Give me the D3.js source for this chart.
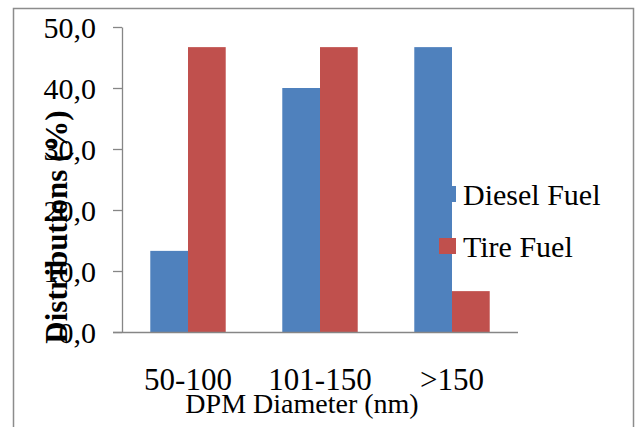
<!DOCTYPE html>
<html>
<head>
<meta charset="utf-8">
<script src="https://cdn.jsdelivr.net/npm/d3@7"></script>
<style>
  html, body { margin: 0; padding: 0; background: #fff; }
  svg { display: block; }
  svg text { font-family: "Liberation Serif", "Times New Roman", serif; }
  .axis--left path, .axis--left line, .axis--bottom path { stroke: #868686; stroke-width: 1.3; }
  .axis--left text { font-size: 30px; fill: #000; }
  .axis--bottom text { font-size: 31px; fill: #000; }
</style>
</head>
<body>
<svg id="bar-chart" width="641" height="427"></svg>
<script>
// chart values
var categories = ['50-100', '101-150', '>150'];
var seriesNames = ['Diesel Fuel', 'Tire Fuel'];
var dieselValues = [13.3, 40.0, 46.7];
var tireValues = [46.7, 46.7, 6.7];
var yTicks = [0, 10, 20, 30, 40, 50];

var colors = { 'Diesel Fuel': '#4F81BD', 'Tire Fuel': '#C0504D' };

var svg = d3.select('#bar-chart');

// chart frame
svg.append('rect')
	.attr('x', 13.5)
	.attr('y', 8.5)
	.attr('width', 620)
	.attr('height', 440)
	.attr('fill', 'none')
	.attr('stroke', '#8c8c8c')
	.attr('stroke-width', 1.5);

var plot = { left: 122, right: 518, top: 27, bottom: 332 };

var x0 = d3.scaleBand()
	.domain(categories)
	.range([plot.left, plot.right])
	.padding(0);

var x1 = d3.scaleBand()
	.domain(seriesNames)
	.range([0, x0.bandwidth()])
	.paddingInner(0)
	.paddingOuter(0.75);

var y = d3.scaleLinear()
	.domain([0, 50])
	.range([plot.bottom, plot.top]);

var rows = categories.map(function(c, i) {
	return { category: c, values: [
		{ name: 'Diesel Fuel', value: dieselValues[i] },
		{ name: 'Tire Fuel', value: tireValues[i] }
	] };
});

var commaFormat = d3.formatLocale({ decimal: ',', thousands: '.', grouping: [3], currency: ['', ''] }).format('.1f');

// bars
svg.append('g')
	.selectAll('g')
	.data(rows)
	.enter()
	.append('g')
	.attr('transform', function(d) { return 'translate(' + x0(d.category) + ',0)'; })
	.selectAll('rect')
	.data(function(d) { return d.values; })
	.enter()
	.append('rect')
	.attr('x', function(d) { return x1(d.name); })
	.attr('y', function(d) { return y(d.value); })
	.attr('width', x1.bandwidth())
	.attr('height', function(d) { return y(0) - y(d.value); })
	.attr('fill', function(d) { return colors[d.name]; });

// y axis
svg.append('g')
	.attr('class', 'axis--left')
	.attr('transform', 'translate(' + plot.left + ',0)')
	.call(d3.axisLeft(y).tickValues(yTicks).tickFormat(commaFormat).tickSize(9).tickSizeOuter(0).tickPadding(17))
	.call(function(g) { g.selectAll('text').attr('dy', '0.34em'); });

// x axis
svg.append('g')
	.attr('class', 'axis--bottom')
	.attr('transform', 'translate(0,' + plot.bottom + ')')
	.call(d3.axisBottom(x0).tickSize(0).tickSizeOuter(0).tickPadding(0))
	.call(function(g) {
		g.select('.domain').attr('d', 'M' + (plot.left - 9) + ',0.5H' + plot.right);
		g.selectAll('text').attr('dy', null).attr('y', 58);
	});

// axis titles
svg.append('text')
	.attr('x', 302)
	.attr('y', 413)
	.attr('text-anchor', 'middle')
	.attr('font-size', '28px')
	.text('DPM Diameter (nm)');

svg.append('text')
	.attr('transform', 'translate(67,227) rotate(-90)')
	.attr('text-anchor', 'middle')
	.attr('font-size', '31px')
	.attr('font-weight', 'bold')
	.text('Distributions (%)');

// legend
var legend = svg.append('g')
	.attr('transform', 'translate(439,0)')
	.selectAll('g')
	.data(seriesNames)
	.enter()
	.append('g')
	.attr('transform', function(d, i) { return 'translate(0,' + (186 + i * 52) + ')'; });

legend.append('rect')
	.attr('width', 17)
	.attr('height', 16)
	.attr('fill', function(d) { return colors[d]; });

legend.append('text')
	.attr('x', 24)
	.attr('y', 19)
	.attr('font-size', '30px')
	.text(function(d) { return d; });
</script>
</body>
</html>
